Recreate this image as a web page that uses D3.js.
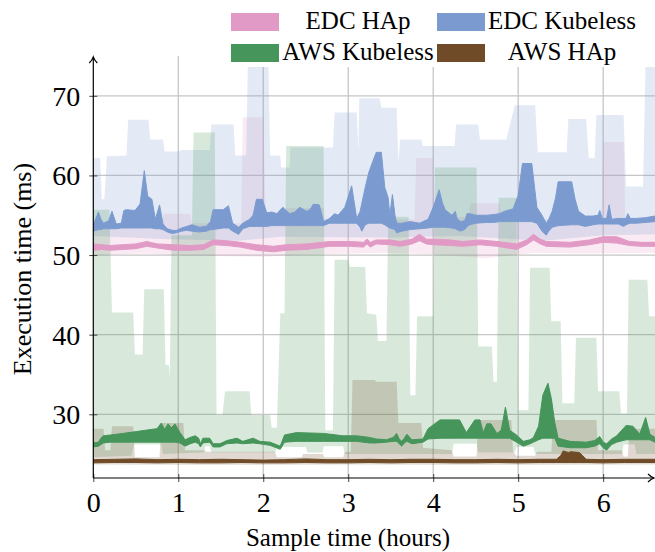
<!DOCTYPE html>
<html><head><meta charset="utf-8">
<script src="https://cdn.jsdelivr.net/npm/d3@7"></script>
<style>body{margin:0;background:#fff}svg{display:block}text{font-family:"Liberation Serif","Times New Roman",serif;fill:#000}</style>
</head><body><svg id="c" width="655" height="552"></svg>
<script>
// ---------- data ----------
const xTicks = [0,1,2,3,4,5,6];
const yTicks = [30,40,50,60,70];
const seriesNames = ["EDC HAp","EDC Kubeless","AWS Kubeless","AWS HAp"];
const seriesColors = ["#E19AC5","#7B9BD0","#46955A","#704B27"];

// dark bands: [hour, low, high]
const edcHapBand = [[0.00,50.6,51.4],[0.10,50.7,51.3],[0.20,50.6,51.2],[0.35,50.7,51.3],[0.50,50.8,51.4],[0.63,51.1,51.7],[0.75,50.9,51.4],[0.94,50.6,51.3],[1.14,50.6,51.2],[1.30,50.7,51.3],[1.41,51.3,51.9],[1.57,51.2,51.8],[1.73,51.0,51.6],[1.92,50.6,51.3],[2.12,50.4,51.1],[2.27,50.6,51.3],[2.51,50.7,51.4],[2.78,51.1,51.7],[3.02,51.1,51.7],[3.18,51.0,51.6],[3.22,51.4,52.0],[3.26,51.0,51.6],[3.33,51.4,51.9],[3.49,51.3,51.9],[3.61,51.1,51.7],[3.75,51.4,52.0],[3.84,51.8,52.6],[3.92,51.4,52.0],[4.00,51.3,52.0],[4.20,51.2,51.9],[4.35,51.1,51.7],[4.55,51.3,51.9],[4.75,51.1,51.7],[4.98,50.7,51.4],[5.10,51.3,51.9],[5.18,51.9,52.6],[5.26,51.4,52.0],[5.33,51.1,51.7],[5.61,51.0,51.6],[5.84,51.3,51.9],[6.00,51.6,52.3],[6.16,51.5,52.3],[6.31,51.2,51.7],[6.45,51.1,51.6],[6.61,51.1,51.6]];

const edcKubBand = [[0.00,53.0,53.8],[0.03,53.1,54.6],[0.06,53.2,55.4],[0.09,53.2,54.5],[0.12,53.3,54.0],[0.18,53.3,54.3],[0.22,53.3,55.5],[0.27,53.3,53.9],[0.33,53.4,54.0],[0.36,53.4,55.6],[0.39,53.4,55.7],[0.49,53.4,55.6],[0.55,53.4,56.4],[0.60,53.4,60.6],[0.64,53.4,57.4],[0.69,53.4,57.0],[0.73,53.3,54.5],[0.78,53.3,56.3],[0.82,53.2,53.9],[0.87,52.9,53.3],[0.93,52.7,53.1],[0.98,52.8,53.1],[1.04,53.0,53.4],[1.10,53.1,53.6],[1.16,53.0,53.8],[1.25,52.9,53.5],[1.33,53.0,53.6],[1.38,53.2,54.2],[1.41,53.2,55.7],[1.53,53.4,55.7],[1.59,53.4,56.2],[1.64,53.0,54.0],[1.71,52.6,53.5],[1.76,53.3,54.0],[1.84,53.6,54.5],[1.88,53.6,55.0],[1.92,53.6,57.0],[1.99,53.6,57.0],[2.04,53.6,55.3],[2.10,53.7,55.4],[2.16,53.7,55.2],[2.23,53.7,56.0],[2.31,53.7,55.2],[2.37,53.7,55.4],[2.43,53.7,56.0],[2.51,53.7,55.5],[2.55,53.7,55.7],[2.59,53.7,56.4],[2.66,53.7,56.3],[2.71,53.7,54.2],[2.78,54.0,54.6],[2.84,54.0,55.2],[2.88,54.0,55.0],[2.96,54.0,56.0],[3.04,54.0,58.7],[3.10,54.0,54.6],[3.14,53.5,55.5],[3.16,53.0,56.5],[3.20,53.8,58.5],[3.24,54.0,60.3],[3.28,54.0,61.5],[3.33,54.0,62.9],[3.39,54.0,62.9],[3.43,53.8,58.5],[3.47,53.5,57.2],[3.49,53.4,55.0],[3.52,53.3,57.6],[3.55,53.2,55.0],[3.57,52.8,54.0],[3.63,53.0,54.0],[3.73,53.2,54.2],[3.84,53.3,54.0],[3.94,53.4,54.5],[4.00,53.5,56.0],[4.07,53.5,58.2],[4.11,53.5,56.5],[4.14,53.5,55.7],[4.22,53.4,55.0],[4.26,53.3,55.5],[4.28,53.2,54.6],[4.32,53.0,54.2],[4.37,53.2,54.3],[4.40,53.6,55.2],[4.43,53.8,55.2],[4.50,54.0,55.0],[4.63,54.1,55.0],[4.72,54.1,55.1],[4.78,54.2,55.2],[4.84,54.2,55.5],[4.94,54.2,55.8],[5.00,54.2,57.5],[5.05,54.2,61.5],[5.16,54.2,61.5],[5.22,54.0,56.0],[5.28,53.0,55.0],[5.33,52.5,54.0],[5.36,53.0,54.5],[5.40,53.5,55.5],[5.44,53.6,57.2],[5.47,53.7,59.2],[5.63,53.8,59.2],[5.67,53.8,57.0],[5.71,53.8,55.5],[5.79,53.6,54.9],[5.88,53.8,54.9],[5.94,53.9,55.0],[5.96,53.9,55.6],[5.99,53.9,54.6],[6.04,53.9,54.6],[6.07,53.9,56.3],[6.10,53.9,54.5],[6.18,53.9,54.6],[6.24,53.6,54.6],[6.27,53.8,54.6],[6.29,53.9,55.2],[6.32,54.0,54.6],[6.39,54.0,54.6],[6.50,54.1,54.7],[6.61,54.2,54.9]];

const awsKubBand = [[0.00,25.9,26.4],[0.06,26.0,26.5],[0.09,26.2,27.0],[0.12,26.4,27.3],[0.20,26.5,27.4],[0.35,26.5,27.6],[0.55,26.5,27.9],[0.75,26.5,28.2],[0.80,26.5,28.9],[0.84,26.5,28.1],[0.88,26.5,28.8],[0.92,26.5,28.3],[0.96,26.5,28.8],[1.02,26.4,27.7],[1.08,26.0,26.8],[1.14,26.3,27.1],[1.20,26.5,27.3],[1.24,26.3,27.0],[1.26,25.9,26.3],[1.29,26.4,27.0],[1.37,26.5,27.0],[1.41,25.9,26.3],[1.49,25.9,26.3],[1.57,26.3,26.7],[1.69,26.4,27.0],[1.76,26.3,26.6],[1.88,26.4,27.0],[1.96,26.3,26.6],[2.08,26.1,26.5],[2.20,25.6,26.0],[2.25,26.5,27.4],[2.39,26.6,27.7],[2.71,26.6,27.6],[2.94,26.6,27.3],[3.10,26.6,27.3],[3.25,26.4,27.1],[3.33,26.4,26.9],[3.45,26.5,26.8],[3.53,26.6,27.1],[3.57,26.6,27.6],[3.60,26.3,26.9],[3.63,26.0,26.6],[3.66,26.4,27.0],[3.69,26.6,27.5],[3.75,26.3,26.8],[3.88,26.5,26.9],[3.94,26.9,28.2],[4.08,27.0,29.3],[4.20,27.0,29.3],[4.31,27.0,29.3],[4.39,27.0,27.7],[4.49,27.0,29.3],[4.55,27.0,29.3],[4.59,27.0,27.7],[4.63,27.0,28.8],[4.68,27.0,28.8],[4.75,27.0,27.6],[4.80,27.0,28.0],[4.85,27.0,30.9],[4.90,27.0,28.0],[4.98,26.5,27.4],[5.06,26.0,26.6],[5.14,26.3,26.8],[5.18,26.5,27.1],[5.24,26.8,28.5],[5.29,27.0,32.4],[5.35,27.0,33.9],[5.39,27.0,32.0],[5.43,27.0,29.0],[5.47,26.0,27.0],[5.61,25.8,26.6],[5.80,25.8,26.5],[5.90,26.0,26.7],[5.96,26.3,27.2],[6.00,25.8,26.5],[6.04,25.5,26.3],[6.10,26.2,26.9],[6.16,26.5,27.3],[6.27,26.8,28.6],[6.35,26.8,28.5],[6.43,26.8,27.5],[6.50,26.8,29.6],[6.55,26.8,27.5],[6.61,26.5,27.1]];

const awsHapBand = [[0.00,23.9,24.3],[0.25,23.95,24.35],[0.50,23.95,24.4],[0.75,23.9,24.3],[1.00,23.95,24.35],[1.25,23.9,24.3],[1.50,23.9,24.35],[1.75,23.95,24.3],[2.00,23.9,24.25],[2.25,23.9,24.3],[2.50,23.95,24.4],[2.75,23.9,24.3],[3.00,23.9,24.3],[3.25,23.95,24.35],[3.50,23.9,24.3],[3.75,23.95,24.35],[4.00,23.95,24.35],[4.25,23.9,24.3],[4.50,23.9,24.3],[4.75,23.95,24.35],[5.00,23.9,24.3],[5.25,23.95,24.35],[5.45,23.95,24.35],[5.50,23.95,24.8],[5.53,23.95,25.4],[5.59,23.95,25.2],[5.62,23.95,25.3],[5.72,23.95,25.2],[5.80,23.95,24.35],[6.00,23.9,24.3],[6.25,23.95,24.35],[6.61,23.95,24.35]];

// light ranges: [hour, value]
const edcHapMax = [[0.00,54.0],[0.80,54.0],[0.83,55.2],[1.14,55.2],[1.16,54.0],[1.74,54.0],[1.76,67.3],[2.00,67.3],[2.03,54.5],[2.25,54.5],[2.27,55.9],[2.71,55.9],[2.73,54.5],[3.78,54.5],[3.80,62.2],[4.00,62.2],[4.02,54.8],[4.42,54.8],[4.44,56.5],[4.78,56.5],[4.80,54.5],[5.98,54.5],[6.00,64.2],[6.24,64.2],[6.26,54.5],[6.61,54.5]];
const edcHapMin = [[0.00,50.0],[0.60,50.2],[1.10,49.9],[2.00,49.8],[2.60,50.1],[3.40,50.3],[4.00,50.1],[4.60,49.6],[5.20,50.3],[5.80,50.2],[6.61,50.3]];

const edcKubMax = [[0.00,62.2],[0.08,62.2],[0.10,57.0],[0.13,57.0],[0.16,62.4],[0.39,62.5],[0.41,67.0],[0.65,67.0],[0.67,64.5],[0.82,64.5],[0.84,63.0],[1.00,63.0],[1.04,63.2],[1.37,63.2],[1.39,66.4],[1.65,66.4],[1.67,62.5],[1.80,62.5],[1.82,75.0],[2.06,75.0],[2.08,62.5],[2.20,62.5],[2.21,61.0],[2.31,61.0],[2.32,63.5],[2.82,63.5],[2.84,67.9],[3.10,67.9],[3.12,63.0],[3.13,69.7],[3.37,69.7],[3.39,68.5],[3.57,68.5],[3.59,61.6],[3.61,64.5],[3.86,64.5],[3.88,63.7],[4.25,63.7],[4.27,66.4],[4.53,66.4],[4.55,64.5],[4.86,64.5],[4.96,68.8],[5.20,68.8],[5.23,62.9],[5.57,62.9],[5.59,67.1],[5.80,67.1],[5.83,62.2],[5.90,62.2],[5.92,67.6],[6.24,67.6],[6.27,58.6],[6.47,58.6],[6.50,75.0],[6.61,75.0]];
const edcKubMin = [[0.00,52.4],[0.90,52.0],[1.70,51.8],[2.20,52.3],[3.50,52.2],[4.30,52.4],[5.30,51.8],[6.00,52.5],[6.61,52.6]];

const awsKubMax = [[0.00,55.7],[0.19,55.7],[0.22,42.8],[0.47,42.8],[0.49,37.5],[0.58,37.5],[0.60,45.7],[0.83,45.7],[0.85,36.2],[0.89,36.2],[0.90,34.5],[0.92,52.5],[1.16,52.5],[1.18,65.4],[1.43,65.4],[1.45,29.9],[1.52,29.9],[1.55,32.9],[1.84,32.9],[1.86,29.9],[2.08,29.9],[2.10,28.3],[2.16,28.3],[2.20,42.7],[2.25,42.7],[2.27,63.7],[2.71,63.7],[2.73,28.0],[2.82,28.0],[2.84,49.4],[3.00,49.4],[3.02,48.5],[3.20,48.5],[3.22,42.7],[3.33,42.5],[3.35,39.2],[3.45,39.2],[3.47,54.8],[3.71,54.8],[3.73,32.4],[3.79,32.4],[3.81,42.3],[4.00,42.3],[4.02,61.0],[4.51,61.0],[4.53,38.5],[4.69,38.5],[4.71,34.1],[4.75,34.1],[4.77,57.2],[4.98,57.2],[5.00,30.5],[5.12,30.5],[5.14,48.4],[5.37,48.4],[5.39,41.7],[5.50,41.7],[5.52,31.4],[5.66,31.4],[5.68,39.6],[5.92,39.6],[5.94,32.9],[6.19,32.9],[6.21,30.1],[6.28,30.1],[6.30,46.9],[6.52,46.9],[6.54,42.3],[6.61,42.3]];
const awsKubMin = [[0.00,24.6],[0.45,24.8],[0.48,26.2],[0.80,26.2],[0.82,25.0],[1.30,25.2],[1.32,26.0],[1.37,26.0],[1.39,25.2],[2.14,25.2],[2.16,25.9],[2.50,25.9],[2.52,25.2],[2.70,25.2],[2.71,26.0],[2.94,26.0],[2.96,25.0],[4.22,25.0],[4.24,26.3],[4.51,26.3],[4.53,25.2],[4.96,25.2],[4.98,25.9],[5.18,25.9],[5.20,25.0],[6.22,25.0],[6.24,26.2],[6.37,26.2],[6.39,25.0],[6.61,25.0]];

const awsHapMax = [[0.00,28.2],[0.12,28.2],[0.14,25.5],[0.20,25.5],[0.22,28.5],[0.47,28.5],[0.49,24.6],[0.78,24.6],[0.80,28.9],[1.06,28.9],[1.08,25.5],[1.31,25.5],[1.33,25.3],[2.14,25.3],[2.16,24.6],[2.45,24.6],[2.47,25.0],[2.70,25.0],[2.72,24.6],[2.94,24.6],[2.96,25.3],[3.03,25.3],[3.05,34.3],[3.31,34.3],[3.33,34.1],[3.57,34.1],[3.59,28.9],[3.86,28.9],[3.88,25.8],[4.22,25.5],[4.24,24.7],[4.51,24.7],[4.53,29.3],[4.92,29.3],[4.94,25.3],[4.98,24.8],[5.20,24.8],[5.22,25.3],[5.39,25.3],[5.41,29.3],[5.92,29.3],[5.94,25.5],[6.22,25.5],[6.24,24.7],[6.29,24.7],[6.31,28.2],[6.61,28.2]];
const awsHapMin = [[0.00,23.7],[1.50,23.65],[3.00,23.7],[4.50,23.65],[6.61,23.7]];

// ---------- drawing ----------
const svg = d3.select("#c");
const x = d3.scaleLinear().domain([0, 6.61]).range([93.3, 655]);
const y = d3.scaleLinear().domain([22, 75]).range([478, 56]);

svg.append("defs").append("clipPath").attr("id","plot")
  .append("rect").attr("x",93.3).attr("y",56).attr("width",562).attr("height",422);

// grid
const grid = svg.append("g").attr("stroke","#c6c6c6").attr("stroke-width",1.3);
grid.selectAll("line.v").data(xTicks.filter(d=>d>0)).join("line").attr("class","v")
  .attr("x1",d=>x(d)).attr("x2",d=>x(d)).attr("y1",y(75)).attr("y2",y(22));
grid.selectAll("line.h").data(yTicks).join("line").attr("class","h")
  .attr("x1",x(0)).attr("x2",655).attr("y1",d=>y(d)).attr("y2",d=>y(d));

const plot = svg.append("g").attr("clip-path","url(#plot)");
const poly = d3.line().x(d=>x(d[0])).y(d=>y(d[1]));
const ranges = [[edcHapMax,edcHapMin],[edcKubMax,edcKubMin],[awsKubMax,awsKubMin],[awsHapMax,awsHapMin]];
ranges.forEach((r,i)=>{
  const pts = r[0].concat(r[1].slice().reverse());
  plot.append("path").attr("d", poly(pts)+"Z")
    .attr("fill", seriesColors[i]).attr("fill-opacity", 0.21).attr("stroke","none");
});
const area = d3.area().x(d=>x(d[0])).y0(d=>y(d[1])).y1(d=>y(d[2]));
[edcHapBand, edcKubBand, awsKubBand, awsHapBand].forEach((b,i)=>{
  plot.append("path").attr("d", area(b))
    .attr("fill", seriesColors[i]).attr("stroke", seriesColors[i]).attr("stroke-width",1).attr("stroke-linejoin","round");
});

// axes
const yAxis = svg.append("g").attr("transform",`translate(${x(0)},0)`)
  .call(d3.axisLeft(y).tickValues(yTicks).tickSize(4).tickFormat(d3.format("d")));
yAxis.select(".domain").remove();
yAxis.selectAll(".tick line").attr("x1",-4).attr("x2",4).attr("stroke","#444").attr("stroke-width",1);
yAxis.selectAll(".tick text").attr("x",-13).attr("dy","0.34em").attr("font-size",28).attr("font-family","Liberation Serif");

const xAxis = svg.append("g").attr("transform",`translate(0,${y(22)})`)
  .call(d3.axisBottom(x).tickValues(xTicks).tickSize(4).tickFormat(d3.format("d")));
xAxis.select(".domain").remove();
xAxis.selectAll(".tick line").attr("y1",-4).attr("y2",4).attr("stroke","#444").attr("stroke-width",1);
xAxis.selectAll(".tick text").attr("y",34).attr("dy",0).attr("font-size",28).attr("font-family","Liberation Serif");

// axis lines with arrows
svg.append("line").attr("x1",x(0)).attr("x2",x(0)).attr("y1",y(22)).attr("y2",57.5).attr("stroke","#000").attr("stroke-width",1.2);
svg.append("path").attr("d",`M${x(0)-4},${63} Q${x(0)-1},${60} ${x(0)},${57} Q${x(0)+1},${60} ${x(0)+4},${63}`).attr("fill","none").attr("stroke","#000").attr("stroke-width",1.2);
svg.append("line").attr("x1",x(0)).attr("x2",654).attr("y1",y(22)).attr("y2",y(22)).attr("stroke","#000").attr("stroke-width",1.2);
svg.append("path").attr("d",`M648,${y(22)-4} Q651,${y(22)-1} 654,${y(22)} Q651,${y(22)+1} 648,${y(22)+4}`).attr("fill","none").attr("stroke","#000").attr("stroke-width",1.2);

// axis titles
svg.append("text").attr("transform","translate(31,269) rotate(-90)").attr("text-anchor","middle")
  .attr("font-size",26).text("Execution time (ms)");
svg.append("text").attr("x",348).attr("y",546).attr("text-anchor","middle")
  .attr("font-size",25).text("Sample time (hours)");

// legend
const lg = svg.append("g");
lg.append("rect").attr("x",225).attr("y",0).attr("width",430).attr("height",67).attr("fill","#fff");
const legendPos = [[231,13,358,29],[437,13,562,29],[231,44,358,60],[437,44,562,60]];
seriesNames.forEach((n,i)=>{
  const p = legendPos[i];
  lg.append("rect").attr("x",p[0]).attr("y",p[1]).attr("width",48).attr("height",18).attr("fill",seriesColors[i]);
  lg.append("text").attr("x",p[2]).attr("y",p[3]).attr("text-anchor","middle").attr("font-size",25).text(n);
});
</script></body></html>
